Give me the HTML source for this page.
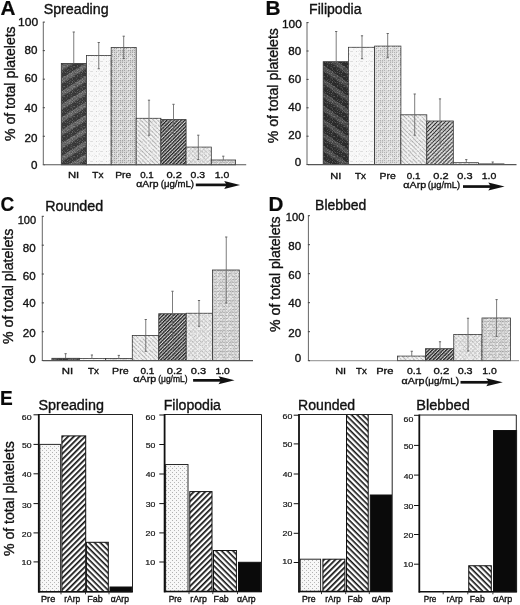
<!DOCTYPE html>
<html><head><meta charset="utf-8"><style>
html,body{margin:0;padding:0;background:#fff;width:520px;height:605px;overflow:hidden}
svg{display:block;will-change:transform;filter:blur(0.3px)}
text{font-family:"Liberation Sans", sans-serif;stroke:#111;stroke-width:0.35px;paint-order:stroke}
</style></head><body>
<svg width="520" height="605" viewBox="0 0 520 605">
<rect width="520" height="605" fill="#fff"/>
<defs>
 <pattern id="pNI" patternUnits="userSpaceOnUse" width="11" height="11" patternTransform="rotate(-32)">
  <rect width="11" height="11" fill="#3c3c3c"/><rect y="0" width="11" height="4.6" fill="#6c6c6c"/>
  <rect x="2" y="1.5" width="2" height="1" fill="#555"/><rect x="7" y="2.5" width="2" height="1" fill="#585858"/>
 </pattern>
 <pattern id="pNIb" patternUnits="userSpaceOnUse" width="11" height="11" patternTransform="rotate(35)">
  <rect width="11" height="11" fill="#2e2e2e"/><rect y="0" width="11" height="4.5" fill="#535353"/>
  <rect x="2" y="1.5" width="2" height="1" fill="#404040"/><rect x="7" y="6.5" width="2" height="1" fill="#444"/>
 </pattern>
 <pattern id="pTx" patternUnits="userSpaceOnUse" width="5" height="5">
  <rect width="5" height="5" fill="#f8f8f8"/><rect x="1" y="1" width="1" height="1" fill="#dcdcdc"/><rect x="3.5" y="3.5" width="1" height="1" fill="#e4e4e4"/>
 </pattern>
 <pattern id="pPre" patternUnits="userSpaceOnUse" width="2" height="2">
  <rect width="2" height="2" fill="#d6d6d6"/><rect width="1" height="1" fill="#a4a4a4"/>
 </pattern>
 <pattern id="pPreB" patternUnits="userSpaceOnUse" width="2" height="2">
  <rect width="2" height="2" fill="#dedede"/><rect width="1" height="1" fill="#b2b2b2"/>
 </pattern>
 <pattern id="pBs" patternUnits="userSpaceOnUse" width="3" height="3" patternTransform="rotate(45)">
  <rect width="3" height="3" fill="#efefef"/><rect width="3" height="1" fill="#b8b8b8"/>
 </pattern>
 <pattern id="pFs" patternUnits="userSpaceOnUse" width="2.5" height="2.5" patternTransform="rotate(-45)">
  <rect width="2.5" height="2.5" fill="#d2d2d2"/><rect width="2.5" height="1.35" fill="#222"/>
 </pattern>
 <pattern id="pFsB" patternUnits="userSpaceOnUse" width="2.8" height="2.8" patternTransform="rotate(-45)">
  <rect width="2.8" height="2.8" fill="#e4e4e4"/><rect width="2.8" height="1.1" fill="#333"/>
 </pattern>
 <pattern id="pX" patternUnits="userSpaceOnUse" width="3" height="3" patternTransform="rotate(45)">
  <rect width="3" height="3" fill="#ececec"/><rect width="3" height="0.8" fill="#c0c0c0"/><rect width="0.8" height="3" fill="#cacaca"/>
 </pattern>
 <pattern id="pGrid" patternUnits="userSpaceOnUse" width="3" height="3">
  <rect width="3" height="3" fill="#d8d8d8"/><rect width="3" height="1" fill="#b6b6b6"/><rect width="1" height="3" fill="#c8c8c8"/>
 </pattern>
 <pattern id="eDot" patternUnits="userSpaceOnUse" width="4" height="4">
  <rect width="4" height="4" fill="#f7f7f7"/><rect x="0" y="0" width="1" height="1" fill="#b0b0b0"/><rect x="2" y="2" width="1" height="1" fill="#b8b8b8"/>
 </pattern>
 <pattern id="eFs" patternUnits="userSpaceOnUse" width="4.0" height="4.0" patternTransform="rotate(-45)">
  <rect width="4.0" height="4.0" fill="#fff"/><rect width="4.0" height="1.7" fill="#111"/>
 </pattern>
 <pattern id="eBs" patternUnits="userSpaceOnUse" width="4.0" height="4.0" patternTransform="rotate(45)">
  <rect width="4.0" height="4.0" fill="#fff"/><rect width="4.0" height="1.6" fill="#111"/>
 </pattern>
 <pattern id="noise" patternUnits="userSpaceOnUse" width="10" height="10"><rect x="0" y="0" width="1" height="1" fill="#fff" fill-opacity="0.10"/><rect x="2" y="0" width="1" height="1" fill="#000" fill-opacity="0.16"/><rect x="3" y="0" width="1" height="1" fill="#fff" fill-opacity="0.09"/><rect x="5" y="0" width="1" height="1" fill="#000" fill-opacity="0.14"/><rect x="6" y="0" width="1" height="1" fill="#000" fill-opacity="0.09"/><rect x="7" y="0" width="1" height="1" fill="#fff" fill-opacity="0.20"/><rect x="8" y="0" width="1" height="1" fill="#000" fill-opacity="0.11"/><rect x="2" y="1" width="1" height="1" fill="#fff" fill-opacity="0.22"/><rect x="3" y="1" width="1" height="1" fill="#000" fill-opacity="0.20"/><rect x="4" y="1" width="1" height="1" fill="#fff" fill-opacity="0.10"/><rect x="5" y="1" width="1" height="1" fill="#000" fill-opacity="0.12"/><rect x="7" y="1" width="1" height="1" fill="#000" fill-opacity="0.16"/><rect x="9" y="1" width="1" height="1" fill="#fff" fill-opacity="0.16"/><rect x="0" y="2" width="1" height="1" fill="#000" fill-opacity="0.09"/><rect x="1" y="2" width="1" height="1" fill="#000" fill-opacity="0.18"/><rect x="2" y="2" width="1" height="1" fill="#fff" fill-opacity="0.12"/><rect x="5" y="2" width="1" height="1" fill="#fff" fill-opacity="0.19"/><rect x="7" y="2" width="1" height="1" fill="#fff" fill-opacity="0.16"/><rect x="1" y="3" width="1" height="1" fill="#fff" fill-opacity="0.22"/><rect x="2" y="3" width="1" height="1" fill="#000" fill-opacity="0.14"/><rect x="4" y="3" width="1" height="1" fill="#000" fill-opacity="0.15"/><rect x="5" y="3" width="1" height="1" fill="#000" fill-opacity="0.17"/><rect x="9" y="3" width="1" height="1" fill="#fff" fill-opacity="0.18"/><rect x="7" y="4" width="1" height="1" fill="#000" fill-opacity="0.18"/><rect x="1" y="5" width="1" height="1" fill="#fff" fill-opacity="0.13"/><rect x="3" y="5" width="1" height="1" fill="#000" fill-opacity="0.14"/><rect x="4" y="5" width="1" height="1" fill="#000" fill-opacity="0.10"/><rect x="5" y="5" width="1" height="1" fill="#000" fill-opacity="0.19"/><rect x="6" y="5" width="1" height="1" fill="#000" fill-opacity="0.11"/><rect x="7" y="5" width="1" height="1" fill="#fff" fill-opacity="0.20"/><rect x="8" y="5" width="1" height="1" fill="#000" fill-opacity="0.14"/><rect x="3" y="6" width="1" height="1" fill="#fff" fill-opacity="0.14"/><rect x="4" y="6" width="1" height="1" fill="#fff" fill-opacity="0.20"/><rect x="6" y="6" width="1" height="1" fill="#000" fill-opacity="0.10"/><rect x="7" y="6" width="1" height="1" fill="#fff" fill-opacity="0.11"/><rect x="0" y="7" width="1" height="1" fill="#fff" fill-opacity="0.08"/><rect x="1" y="7" width="1" height="1" fill="#fff" fill-opacity="0.13"/><rect x="8" y="7" width="1" height="1" fill="#000" fill-opacity="0.21"/><rect x="2" y="8" width="1" height="1" fill="#fff" fill-opacity="0.14"/><rect x="3" y="8" width="1" height="1" fill="#000" fill-opacity="0.17"/><rect x="4" y="8" width="1" height="1" fill="#000" fill-opacity="0.09"/><rect x="5" y="8" width="1" height="1" fill="#000" fill-opacity="0.10"/><rect x="6" y="8" width="1" height="1" fill="#fff" fill-opacity="0.09"/><rect x="7" y="8" width="1" height="1" fill="#000" fill-opacity="0.10"/><rect x="8" y="8" width="1" height="1" fill="#000" fill-opacity="0.13"/><rect x="9" y="8" width="1" height="1" fill="#000" fill-opacity="0.20"/><rect x="1" y="9" width="1" height="1" fill="#000" fill-opacity="0.12"/><rect x="2" y="9" width="1" height="1" fill="#fff" fill-opacity="0.13"/><rect x="3" y="9" width="1" height="1" fill="#000" fill-opacity="0.20"/><rect x="7" y="9" width="1" height="1" fill="#000" fill-opacity="0.09"/><rect x="8" y="9" width="1" height="1" fill="#fff" fill-opacity="0.12"/></pattern>
 <pattern id="noiseL" patternUnits="userSpaceOnUse" width="10" height="10"><rect x="6" y="0" width="1" height="1" fill="#fff" fill-opacity="0.45"/><rect x="9" y="0" width="1" height="1" fill="#000" fill-opacity="0.06"/><rect x="0" y="1" width="1" height="1" fill="#000" fill-opacity="0.09"/><rect x="2" y="1" width="1" height="1" fill="#000" fill-opacity="0.10"/><rect x="6" y="1" width="1" height="1" fill="#000" fill-opacity="0.04"/><rect x="8" y="1" width="1" height="1" fill="#000" fill-opacity="0.05"/><rect x="9" y="1" width="1" height="1" fill="#fff" fill-opacity="0.31"/><rect x="8" y="2" width="1" height="1" fill="#fff" fill-opacity="0.60"/><rect x="2" y="3" width="1" height="1" fill="#fff" fill-opacity="0.37"/><rect x="3" y="3" width="1" height="1" fill="#fff" fill-opacity="0.32"/><rect x="7" y="3" width="1" height="1" fill="#fff" fill-opacity="0.59"/><rect x="9" y="3" width="1" height="1" fill="#000" fill-opacity="0.05"/><rect x="3" y="4" width="1" height="1" fill="#fff" fill-opacity="0.32"/><rect x="6" y="4" width="1" height="1" fill="#fff" fill-opacity="0.33"/><rect x="7" y="4" width="1" height="1" fill="#fff" fill-opacity="0.59"/><rect x="9" y="4" width="1" height="1" fill="#000" fill-opacity="0.05"/><rect x="0" y="5" width="1" height="1" fill="#000" fill-opacity="0.04"/><rect x="2" y="5" width="1" height="1" fill="#000" fill-opacity="0.07"/><rect x="4" y="5" width="1" height="1" fill="#fff" fill-opacity="0.52"/><rect x="5" y="5" width="1" height="1" fill="#000" fill-opacity="0.08"/><rect x="6" y="5" width="1" height="1" fill="#000" fill-opacity="0.07"/><rect x="7" y="5" width="1" height="1" fill="#fff" fill-opacity="0.38"/><rect x="0" y="6" width="1" height="1" fill="#fff" fill-opacity="0.57"/><rect x="1" y="6" width="1" height="1" fill="#fff" fill-opacity="0.42"/><rect x="4" y="6" width="1" height="1" fill="#000" fill-opacity="0.10"/><rect x="5" y="6" width="1" height="1" fill="#fff" fill-opacity="0.38"/><rect x="7" y="6" width="1" height="1" fill="#fff" fill-opacity="0.39"/><rect x="8" y="6" width="1" height="1" fill="#000" fill-opacity="0.05"/><rect x="0" y="7" width="1" height="1" fill="#fff" fill-opacity="0.48"/><rect x="1" y="7" width="1" height="1" fill="#fff" fill-opacity="0.44"/><rect x="6" y="7" width="1" height="1" fill="#fff" fill-opacity="0.35"/><rect x="9" y="7" width="1" height="1" fill="#fff" fill-opacity="0.36"/><rect x="2" y="8" width="1" height="1" fill="#fff" fill-opacity="0.59"/><rect x="6" y="8" width="1" height="1" fill="#000" fill-opacity="0.04"/><rect x="8" y="8" width="1" height="1" fill="#fff" fill-opacity="0.51"/><rect x="9" y="8" width="1" height="1" fill="#fff" fill-opacity="0.55"/><rect x="1" y="9" width="1" height="1" fill="#fff" fill-opacity="0.35"/><rect x="3" y="9" width="1" height="1" fill="#000" fill-opacity="0.05"/><rect x="7" y="9" width="1" height="1" fill="#fff" fill-opacity="0.58"/><rect x="8" y="9" width="1" height="1" fill="#fff" fill-opacity="0.30"/><rect x="9" y="9" width="1" height="1" fill="#fff" fill-opacity="0.43"/></pattern>
</defs>

<text x="0.48" y="14.70" font-size="20" font-weight="bold" fill="#0a0a0a" textLength="14.98" lengthAdjust="spacingAndGlyphs" style="stroke-width:0.2px">A</text>
<text x="43.66" y="13.90" font-size="14" font-weight="normal" fill="#111" textLength="64.96" lengthAdjust="spacingAndGlyphs">Spreading</text>
<rect x="61.30" y="63.50" width="25.20" height="101.30" fill="url(#pNI)" stroke="#333" stroke-width="0.8" />
<rect x="61.70" y="63.90" width="24.40" height="100.50" fill="url(#noise)" stroke="none" stroke-width="1" />
<rect x="86.50" y="55.40" width="24.70" height="109.40" fill="url(#pTx)" stroke="#333" stroke-width="0.8" />
<rect x="86.90" y="55.80" width="23.90" height="108.60" fill="url(#noiseL)" stroke="none" stroke-width="1" />
<rect x="111.20" y="47.40" width="25.00" height="117.40" fill="url(#pPre)" stroke="#333" stroke-width="0.8" />
<rect x="111.60" y="47.80" width="24.20" height="116.60" fill="url(#noiseL)" stroke="none" stroke-width="1" />
<rect x="136.20" y="118.30" width="24.70" height="46.50" fill="url(#pBs)" stroke="#333" stroke-width="0.8" />
<rect x="136.60" y="118.70" width="23.90" height="45.70" fill="url(#noiseL)" stroke="none" stroke-width="1" />
<rect x="160.90" y="119.60" width="25.20" height="45.20" fill="url(#pFs)" stroke="#333" stroke-width="0.8" />
<rect x="161.30" y="120.00" width="24.40" height="44.40" fill="url(#noise)" stroke="none" stroke-width="1" />
<rect x="186.10" y="147.10" width="25.20" height="17.70" fill="url(#pX)" stroke="#333" stroke-width="0.8" />
<rect x="186.50" y="147.50" width="24.40" height="16.90" fill="url(#noiseL)" stroke="none" stroke-width="1" />
<rect x="211.30" y="160.00" width="24.30" height="4.80" fill="url(#pGrid)" stroke="#333" stroke-width="0.8" />
<rect x="211.70" y="160.40" width="23.50" height="4.00" fill="url(#noiseL)" stroke="none" stroke-width="1" />
<line x1="73.75" y1="32.00" x2="73.75" y2="63.50" stroke="#666" stroke-width="0.85" />
<line x1="72.65" y1="32.00" x2="74.85" y2="32.00" stroke="#666" stroke-width="1" />
<line x1="98.75" y1="42.50" x2="98.75" y2="68.75" stroke="#666" stroke-width="0.85" />
<line x1="97.65" y1="42.50" x2="99.85" y2="42.50" stroke="#666" stroke-width="1" />
<line x1="97.65" y1="68.75" x2="99.85" y2="68.75" stroke="#666" stroke-width="1" />
<line x1="123.70" y1="36.20" x2="123.70" y2="58.50" stroke="#666" stroke-width="0.85" />
<line x1="122.60" y1="36.20" x2="124.80" y2="36.20" stroke="#666" stroke-width="1" />
<line x1="122.60" y1="58.50" x2="124.80" y2="58.50" stroke="#666" stroke-width="1" />
<line x1="149.00" y1="100.20" x2="149.00" y2="135.20" stroke="#666" stroke-width="0.85" />
<line x1="147.90" y1="100.20" x2="150.10" y2="100.20" stroke="#666" stroke-width="1" />
<line x1="147.90" y1="135.20" x2="150.10" y2="135.20" stroke="#666" stroke-width="1" />
<line x1="173.50" y1="104.30" x2="173.50" y2="135.80" stroke="#666" stroke-width="0.85" />
<line x1="172.40" y1="104.30" x2="174.60" y2="104.30" stroke="#666" stroke-width="1" />
<line x1="172.40" y1="135.80" x2="174.60" y2="135.80" stroke="#666" stroke-width="1" />
<line x1="198.30" y1="135.20" x2="198.30" y2="159.50" stroke="#666" stroke-width="0.85" />
<line x1="197.20" y1="135.20" x2="199.40" y2="135.20" stroke="#666" stroke-width="1" />
<line x1="197.20" y1="159.50" x2="199.40" y2="159.50" stroke="#666" stroke-width="1" />
<line x1="223.30" y1="156.20" x2="223.30" y2="160.00" stroke="#666" stroke-width="0.85" />
<line x1="222.20" y1="156.20" x2="224.40" y2="156.20" stroke="#666" stroke-width="1" />
<line x1="43.30" y1="22.10" x2="43.30" y2="164.80" stroke="#666" stroke-width="1" />
<line x1="44.30" y1="164.80" x2="246.20" y2="164.80" stroke="#555" stroke-width="1.1" />
<line x1="42.80" y1="164.80" x2="44.90" y2="164.80" stroke="#444" stroke-width="1" />
<text x="30.97" y="169.05" font-size="11.6" font-weight="normal" fill="#111" textLength="6.45" lengthAdjust="spacingAndGlyphs">0</text>
<line x1="42.80" y1="136.26" x2="44.90" y2="136.26" stroke="#444" stroke-width="1" />
<text x="24.53" y="141.75" font-size="11.6" font-weight="normal" fill="#111" textLength="12.90" lengthAdjust="spacingAndGlyphs">20</text>
<line x1="42.80" y1="107.72" x2="44.90" y2="107.72" stroke="#444" stroke-width="1" />
<text x="24.53" y="111.85" font-size="11.6" font-weight="normal" fill="#111" textLength="12.90" lengthAdjust="spacingAndGlyphs">40</text>
<line x1="42.80" y1="79.18" x2="44.90" y2="79.18" stroke="#444" stroke-width="1" />
<text x="24.53" y="82.20" font-size="11.6" font-weight="normal" fill="#111" textLength="12.90" lengthAdjust="spacingAndGlyphs">60</text>
<line x1="42.80" y1="50.64" x2="44.90" y2="50.64" stroke="#444" stroke-width="1" />
<text x="24.53" y="54.05" font-size="11.6" font-weight="normal" fill="#111" textLength="12.90" lengthAdjust="spacingAndGlyphs">80</text>
<line x1="42.80" y1="22.10" x2="44.90" y2="22.10" stroke="#444" stroke-width="1" />
<text x="18.10" y="26.05" font-size="11.6" font-weight="normal" fill="#111" textLength="20.07" lengthAdjust="spacingAndGlyphs">100</text>
<text transform="translate(15.20,140.50) rotate(-90)" x="-0.49" y="0" font-size="14" fill="#111" textLength="114.60" lengthAdjust="spacingAndGlyphs">% of total platelets</text>
<text x="67.90" y="178.30" font-size="9.5" font-weight="normal" fill="#111" textLength="11.27" lengthAdjust="spacingAndGlyphs">NI</text>
<text x="92.30" y="178.30" font-size="9.5" font-weight="normal" fill="#111" textLength="11.11" lengthAdjust="spacingAndGlyphs">Tx</text>
<text x="115.18" y="178.30" font-size="9.5" font-weight="normal" fill="#111" textLength="16.00" lengthAdjust="spacingAndGlyphs">Pre</text>
<text x="140.21" y="178.30" font-size="9.5" font-weight="normal" fill="#111" textLength="13.53" lengthAdjust="spacingAndGlyphs">0.1</text>
<text x="166.46" y="178.30" font-size="9.5" font-weight="normal" fill="#111" textLength="15.40" lengthAdjust="spacingAndGlyphs">0.2</text>
<text x="190.58" y="178.30" font-size="9.5" font-weight="normal" fill="#111" textLength="14.54" lengthAdjust="spacingAndGlyphs">0.3</text>
<text x="214.81" y="178.30" font-size="9.5" font-weight="normal" fill="#111" textLength="14.55" lengthAdjust="spacingAndGlyphs">1.0</text>
<text x="136.39" y="186.70" font-size="9.4" font-weight="normal" fill="#111" textLength="22.12" lengthAdjust="spacingAndGlyphs">&#945;Arp</text>
<text x="160.73" y="186.70" font-size="9.2" font-weight="normal" fill="#111" textLength="33.20" lengthAdjust="spacingAndGlyphs">(&#956;g/mL)</text>
<rect x="195.80" y="183.55" width="31.40" height="2.7" fill="#111"/>
<path d="M224.20 180.90 L240.10 184.90 L224.20 188.90 L226.70 184.90 Z" fill="#111"/>
<text x="265.55" y="15.20" font-size="20" font-weight="bold" fill="#0a0a0a" textLength="15.04" lengthAdjust="spacingAndGlyphs" style="stroke-width:0.2px">B</text>
<text x="309.07" y="14.40" font-size="14" font-weight="normal" fill="#111" textLength="52.42" lengthAdjust="spacingAndGlyphs">Filipodia</text>
<rect x="323.20" y="61.70" width="25.30" height="102.90" fill="url(#pNIb)" stroke="#333" stroke-width="0.8" />
<rect x="323.60" y="62.10" width="24.50" height="102.10" fill="url(#noise)" stroke="none" stroke-width="1" />
<rect x="348.50" y="47.30" width="26.10" height="117.30" fill="url(#pTx)" stroke="#333" stroke-width="0.8" />
<rect x="348.90" y="47.70" width="25.30" height="116.50" fill="url(#noiseL)" stroke="none" stroke-width="1" />
<rect x="374.60" y="46.10" width="26.30" height="118.50" fill="url(#pPreB)" stroke="#333" stroke-width="0.8" />
<rect x="375.00" y="46.50" width="25.50" height="117.70" fill="url(#noiseL)" stroke="none" stroke-width="1" />
<rect x="400.90" y="114.80" width="25.90" height="49.80" fill="url(#pBs)" stroke="#333" stroke-width="0.8" />
<rect x="401.30" y="115.20" width="25.10" height="49.00" fill="url(#noiseL)" stroke="none" stroke-width="1" />
<rect x="426.80" y="121.00" width="26.50" height="43.60" fill="url(#pFsB)" stroke="#333" stroke-width="0.8" />
<rect x="427.20" y="121.40" width="25.70" height="42.80" fill="url(#noise)" stroke="none" stroke-width="1" />
<rect x="453.30" y="162.70" width="25.30" height="1.90" fill="url(#pX)" stroke="#333" stroke-width="0.8" />
<rect x="453.70" y="163.10" width="24.50" height="1.10" fill="url(#noiseL)" stroke="none" stroke-width="1" />
<rect x="478.60" y="163.90" width="25.40" height="0.70" fill="url(#pGrid)" stroke="#333" stroke-width="0.8" />
<rect x="479.00" y="164.30" width="24.60" height="-0.10" fill="url(#noiseL)" stroke="none" stroke-width="1" />
<line x1="336.20" y1="31.50" x2="336.20" y2="61.70" stroke="#666" stroke-width="0.85" />
<line x1="335.10" y1="31.50" x2="337.30" y2="31.50" stroke="#666" stroke-width="1" />
<line x1="362.00" y1="35.80" x2="362.00" y2="58.70" stroke="#666" stroke-width="0.85" />
<line x1="360.90" y1="35.80" x2="363.10" y2="35.80" stroke="#666" stroke-width="1" />
<line x1="360.90" y1="58.70" x2="363.10" y2="58.70" stroke="#666" stroke-width="1" />
<line x1="387.70" y1="33.50" x2="387.70" y2="57.70" stroke="#666" stroke-width="0.85" />
<line x1="386.60" y1="33.50" x2="388.80" y2="33.50" stroke="#666" stroke-width="1" />
<line x1="386.60" y1="57.70" x2="388.80" y2="57.70" stroke="#666" stroke-width="1" />
<line x1="414.70" y1="94.00" x2="414.70" y2="135.20" stroke="#666" stroke-width="0.85" />
<line x1="413.60" y1="94.00" x2="415.80" y2="94.00" stroke="#666" stroke-width="1" />
<line x1="413.60" y1="135.20" x2="415.80" y2="135.20" stroke="#666" stroke-width="1" />
<line x1="440.00" y1="98.90" x2="440.00" y2="143.90" stroke="#666" stroke-width="0.85" />
<line x1="438.90" y1="98.90" x2="441.10" y2="98.90" stroke="#666" stroke-width="1" />
<line x1="438.90" y1="143.90" x2="441.10" y2="143.90" stroke="#666" stroke-width="1" />
<line x1="466.30" y1="159.60" x2="466.30" y2="162.70" stroke="#666" stroke-width="0.85" />
<line x1="465.20" y1="159.60" x2="467.40" y2="159.60" stroke="#666" stroke-width="1" />
<line x1="492.70" y1="162.00" x2="492.70" y2="163.90" stroke="#666" stroke-width="0.85" />
<line x1="491.60" y1="162.00" x2="493.80" y2="162.00" stroke="#666" stroke-width="1" />
<line x1="307.00" y1="22.60" x2="307.00" y2="164.60" stroke="#666" stroke-width="1" />
<line x1="308.00" y1="164.60" x2="516.50" y2="164.60" stroke="#555" stroke-width="1.1" />
<line x1="306.50" y1="164.60" x2="308.60" y2="164.60" stroke="#444" stroke-width="1" />
<text x="294.77" y="165.85" font-size="11.6" font-weight="normal" fill="#111" textLength="6.45" lengthAdjust="spacingAndGlyphs">0</text>
<line x1="306.50" y1="136.20" x2="308.60" y2="136.20" stroke="#444" stroke-width="1" />
<text x="288.33" y="138.95" font-size="11.6" font-weight="normal" fill="#111" textLength="12.90" lengthAdjust="spacingAndGlyphs">20</text>
<line x1="306.50" y1="107.80" x2="308.60" y2="107.80" stroke="#444" stroke-width="1" />
<text x="288.33" y="111.15" font-size="11.6" font-weight="normal" fill="#111" textLength="12.90" lengthAdjust="spacingAndGlyphs">40</text>
<line x1="306.50" y1="79.40" x2="308.60" y2="79.40" stroke="#444" stroke-width="1" />
<text x="288.33" y="82.55" font-size="11.6" font-weight="normal" fill="#111" textLength="12.90" lengthAdjust="spacingAndGlyphs">60</text>
<line x1="306.50" y1="51.00" x2="308.60" y2="51.00" stroke="#444" stroke-width="1" />
<text x="288.33" y="54.80" font-size="11.6" font-weight="normal" fill="#111" textLength="12.90" lengthAdjust="spacingAndGlyphs">80</text>
<line x1="306.50" y1="22.60" x2="308.60" y2="22.60" stroke="#444" stroke-width="1" />
<text x="281.91" y="27.70" font-size="11.6" font-weight="normal" fill="#111" textLength="19.85" lengthAdjust="spacingAndGlyphs">100</text>
<text transform="translate(277.80,142.80) rotate(-90)" x="-0.49" y="0" font-size="14" fill="#111" textLength="115.21" lengthAdjust="spacingAndGlyphs">% of total platelets</text>
<text x="330.36" y="178.80" font-size="9.5" font-weight="normal" fill="#111" textLength="11.09" lengthAdjust="spacingAndGlyphs">NI</text>
<text x="355.10" y="178.80" font-size="9.5" font-weight="normal" fill="#111" textLength="10.90" lengthAdjust="spacingAndGlyphs">Tx</text>
<text x="379.47" y="178.80" font-size="9.5" font-weight="normal" fill="#111" textLength="16.22" lengthAdjust="spacingAndGlyphs">Pre</text>
<text x="406.81" y="178.80" font-size="9.5" font-weight="normal" fill="#111" textLength="13.64" lengthAdjust="spacingAndGlyphs">0.1</text>
<text x="433.36" y="178.80" font-size="9.5" font-weight="normal" fill="#111" textLength="15.29" lengthAdjust="spacingAndGlyphs">0.2</text>
<text x="457.26" y="178.80" font-size="9.5" font-weight="normal" fill="#111" textLength="15.28" lengthAdjust="spacingAndGlyphs">0.3</text>
<text x="481.71" y="178.80" font-size="9.5" font-weight="normal" fill="#111" textLength="14.66" lengthAdjust="spacingAndGlyphs">1.0</text>
<text x="403.37" y="187.60" font-size="9.4" font-weight="normal" fill="#111" textLength="22.85" lengthAdjust="spacingAndGlyphs">&#945;Arp</text>
<text x="427.84" y="187.60" font-size="9.2" font-weight="normal" fill="#111" textLength="32.16" lengthAdjust="spacingAndGlyphs">(&#956;g/mL)</text>
<rect x="463.00" y="185.20" width="28.30" height="2.7" fill="#111"/>
<path d="M488.30 182.55 L504.60 186.55 L488.30 190.55 L490.80 186.55 Z" fill="#111"/>
<text x="0.39" y="210.60" font-size="20" font-weight="bold" fill="#0a0a0a" textLength="13.73" lengthAdjust="spacingAndGlyphs" style="stroke-width:0.2px">C</text>
<text x="45.16" y="211.00" font-size="14" font-weight="normal" fill="#111" textLength="58.06" lengthAdjust="spacingAndGlyphs">Rounded</text>
<rect x="51.90" y="358.30" width="27.50" height="2.30" fill="url(#pNI)" stroke="#333" stroke-width="0.8" />
<rect x="52.30" y="358.70" width="26.70" height="1.50" fill="url(#noise)" stroke="none" stroke-width="1" />
<rect x="79.40" y="358.50" width="26.00" height="2.10" fill="url(#pTx)" stroke="#333" stroke-width="0.8" />
<rect x="79.80" y="358.90" width="25.20" height="1.30" fill="url(#noiseL)" stroke="none" stroke-width="1" />
<rect x="105.40" y="358.50" width="26.90" height="2.10" fill="url(#pPre)" stroke="#333" stroke-width="0.8" />
<rect x="105.80" y="358.90" width="26.10" height="1.30" fill="url(#noiseL)" stroke="none" stroke-width="1" />
<rect x="132.30" y="335.50" width="26.45" height="25.10" fill="url(#pBs)" stroke="#333" stroke-width="0.8" />
<rect x="132.70" y="335.90" width="25.65" height="24.30" fill="url(#noiseL)" stroke="none" stroke-width="1" />
<rect x="158.75" y="313.75" width="27.50" height="46.85" fill="url(#pFs)" stroke="#333" stroke-width="0.8" />
<rect x="159.15" y="314.15" width="26.70" height="46.05" fill="url(#noise)" stroke="none" stroke-width="1" />
<rect x="186.25" y="313.25" width="26.25" height="47.35" fill="url(#pX)" stroke="#333" stroke-width="0.8" />
<rect x="186.65" y="313.65" width="25.45" height="46.55" fill="url(#noiseL)" stroke="none" stroke-width="1" />
<rect x="212.50" y="270.00" width="26.80" height="90.60" fill="url(#pGrid)" stroke="#333" stroke-width="0.8" />
<rect x="212.90" y="270.40" width="26.00" height="89.80" fill="url(#noiseL)" stroke="none" stroke-width="1" />
<line x1="65.60" y1="353.70" x2="65.60" y2="358.30" stroke="#666" stroke-width="0.85" />
<line x1="64.50" y1="353.70" x2="66.70" y2="353.70" stroke="#666" stroke-width="1" />
<line x1="91.90" y1="355.00" x2="91.90" y2="358.50" stroke="#666" stroke-width="0.85" />
<line x1="90.80" y1="355.00" x2="93.00" y2="355.00" stroke="#666" stroke-width="1" />
<line x1="118.80" y1="355.40" x2="118.80" y2="358.50" stroke="#666" stroke-width="0.85" />
<line x1="117.70" y1="355.40" x2="119.90" y2="355.40" stroke="#666" stroke-width="1" />
<line x1="145.75" y1="319.50" x2="145.75" y2="351.25" stroke="#666" stroke-width="0.85" />
<line x1="144.65" y1="319.50" x2="146.85" y2="319.50" stroke="#666" stroke-width="1" />
<line x1="144.65" y1="351.25" x2="146.85" y2="351.25" stroke="#666" stroke-width="1" />
<line x1="172.50" y1="291.25" x2="172.50" y2="336.25" stroke="#666" stroke-width="0.85" />
<line x1="171.40" y1="291.25" x2="173.60" y2="291.25" stroke="#666" stroke-width="1" />
<line x1="171.40" y1="336.25" x2="173.60" y2="336.25" stroke="#666" stroke-width="1" />
<line x1="199.00" y1="300.50" x2="199.00" y2="326.25" stroke="#666" stroke-width="0.85" />
<line x1="197.90" y1="300.50" x2="200.10" y2="300.50" stroke="#666" stroke-width="1" />
<line x1="197.90" y1="326.25" x2="200.10" y2="326.25" stroke="#666" stroke-width="1" />
<line x1="226.25" y1="237.00" x2="226.25" y2="303.00" stroke="#666" stroke-width="0.85" />
<line x1="225.15" y1="237.00" x2="227.35" y2="237.00" stroke="#666" stroke-width="1" />
<line x1="225.15" y1="303.00" x2="227.35" y2="303.00" stroke="#666" stroke-width="1" />
<line x1="42.30" y1="216.30" x2="42.30" y2="360.60" stroke="#666" stroke-width="1" />
<line x1="43.30" y1="360.60" x2="253.00" y2="360.60" stroke="#555" stroke-width="1.1" />
<line x1="41.80" y1="360.60" x2="43.90" y2="360.60" stroke="#444" stroke-width="1" />
<text x="29.17" y="362.55" font-size="11.6" font-weight="normal" fill="#111" textLength="6.45" lengthAdjust="spacingAndGlyphs">0</text>
<line x1="41.80" y1="331.74" x2="43.90" y2="331.74" stroke="#444" stroke-width="1" />
<text x="22.73" y="336.85" font-size="11.6" font-weight="normal" fill="#111" textLength="12.90" lengthAdjust="spacingAndGlyphs">20</text>
<line x1="41.80" y1="302.88" x2="43.90" y2="302.88" stroke="#444" stroke-width="1" />
<text x="22.73" y="307.35" font-size="11.6" font-weight="normal" fill="#111" textLength="12.90" lengthAdjust="spacingAndGlyphs">40</text>
<line x1="41.80" y1="274.02" x2="43.90" y2="274.02" stroke="#444" stroke-width="1" />
<text x="22.73" y="279.55" font-size="11.6" font-weight="normal" fill="#111" textLength="12.90" lengthAdjust="spacingAndGlyphs">60</text>
<line x1="41.80" y1="245.16" x2="43.90" y2="245.16" stroke="#444" stroke-width="1" />
<text x="22.73" y="252.15" font-size="11.6" font-weight="normal" fill="#111" textLength="12.90" lengthAdjust="spacingAndGlyphs">80</text>
<line x1="41.80" y1="216.30" x2="43.90" y2="216.30" stroke="#444" stroke-width="1" />
<text x="17.67" y="224.05" font-size="11.6" font-weight="normal" fill="#111" textLength="18.46" lengthAdjust="spacingAndGlyphs">100</text>
<text transform="translate(12.90,343.40) rotate(-90)" x="-0.49" y="0" font-size="14" fill="#111" textLength="115.11" lengthAdjust="spacingAndGlyphs">% of total platelets</text>
<text x="61.79" y="373.50" font-size="9.5" font-weight="normal" fill="#111" textLength="11.39" lengthAdjust="spacingAndGlyphs">NI</text>
<text x="88.00" y="373.50" font-size="9.5" font-weight="normal" fill="#111" textLength="10.85" lengthAdjust="spacingAndGlyphs">Tx</text>
<text x="112.05" y="373.50" font-size="9.5" font-weight="normal" fill="#111" textLength="16.54" lengthAdjust="spacingAndGlyphs">Pre</text>
<text x="140.50" y="373.50" font-size="9.5" font-weight="normal" fill="#111" textLength="13.85" lengthAdjust="spacingAndGlyphs">0.1</text>
<text x="166.86" y="373.50" font-size="9.5" font-weight="normal" fill="#111" textLength="15.45" lengthAdjust="spacingAndGlyphs">0.2</text>
<text x="190.86" y="373.50" font-size="9.5" font-weight="normal" fill="#111" textLength="15.39" lengthAdjust="spacingAndGlyphs">0.3</text>
<text x="215.43" y="373.50" font-size="9.5" font-weight="normal" fill="#111" textLength="14.34" lengthAdjust="spacingAndGlyphs">1.0</text>
<text x="133.37" y="381.60" font-size="9.4" font-weight="normal" fill="#111" textLength="22.85" lengthAdjust="spacingAndGlyphs">&#945;Arp</text>
<text x="158.19" y="381.60" font-size="9.2" font-weight="normal" fill="#111" textLength="29.36" lengthAdjust="spacingAndGlyphs">(&#956;g/mL)</text>
<rect x="193.10" y="379.00" width="28.40" height="2.7" fill="#111"/>
<path d="M218.50 376.35 L234.60 380.35 L218.50 384.35 L221.00 380.35 Z" fill="#111"/>
<text x="268.46" y="210.60" font-size="20" font-weight="bold" fill="#0a0a0a" textLength="14.91" lengthAdjust="spacingAndGlyphs" style="stroke-width:0.2px">D</text>
<text x="315.08" y="210.20" font-size="14" font-weight="normal" fill="#111" textLength="51.22" lengthAdjust="spacingAndGlyphs">Blebbed</text>
<rect x="397.50" y="356.10" width="28.00" height="4.60" fill="url(#pBs)" stroke="#333" stroke-width="0.8" />
<rect x="397.90" y="356.50" width="27.20" height="3.80" fill="url(#noiseL)" stroke="none" stroke-width="1" />
<rect x="425.50" y="348.70" width="28.25" height="12.00" fill="url(#pFs)" stroke="#333" stroke-width="0.8" />
<rect x="425.90" y="349.10" width="27.45" height="11.20" fill="url(#noise)" stroke="none" stroke-width="1" />
<rect x="453.75" y="334.40" width="28.25" height="26.30" fill="url(#pX)" stroke="#333" stroke-width="0.8" />
<rect x="454.15" y="334.80" width="27.45" height="25.50" fill="url(#noiseL)" stroke="none" stroke-width="1" />
<rect x="482.00" y="318.00" width="28.50" height="42.70" fill="url(#pGrid)" stroke="#333" stroke-width="0.8" />
<rect x="482.40" y="318.40" width="27.70" height="41.90" fill="url(#noiseL)" stroke="none" stroke-width="1" />
<line x1="411.75" y1="351.25" x2="411.75" y2="356.10" stroke="#666" stroke-width="0.85" />
<line x1="410.65" y1="351.25" x2="412.85" y2="351.25" stroke="#666" stroke-width="1" />
<line x1="440.00" y1="341.75" x2="440.00" y2="354.00" stroke="#666" stroke-width="0.85" />
<line x1="438.90" y1="341.75" x2="441.10" y2="341.75" stroke="#666" stroke-width="1" />
<line x1="438.90" y1="354.00" x2="441.10" y2="354.00" stroke="#666" stroke-width="1" />
<line x1="468.00" y1="318.25" x2="468.00" y2="351.00" stroke="#666" stroke-width="0.85" />
<line x1="466.90" y1="318.25" x2="469.10" y2="318.25" stroke="#666" stroke-width="1" />
<line x1="466.90" y1="351.00" x2="469.10" y2="351.00" stroke="#666" stroke-width="1" />
<line x1="496.60" y1="299.60" x2="496.60" y2="336.40" stroke="#666" stroke-width="0.85" />
<line x1="495.50" y1="299.60" x2="497.70" y2="299.60" stroke="#666" stroke-width="1" />
<line x1="495.50" y1="336.40" x2="497.70" y2="336.40" stroke="#666" stroke-width="1" />
<line x1="308.40" y1="215.70" x2="308.40" y2="360.70" stroke="#666" stroke-width="1" />
<line x1="309.40" y1="360.70" x2="519.00" y2="360.70" stroke="#666" stroke-width="1.3" stroke-dasharray="1.2 0.8"/>
<line x1="307.90" y1="360.70" x2="310.00" y2="360.70" stroke="#444" stroke-width="1" />
<text x="294.77" y="361.85" font-size="11.6" font-weight="normal" fill="#111" textLength="6.45" lengthAdjust="spacingAndGlyphs">0</text>
<line x1="307.90" y1="331.70" x2="310.00" y2="331.70" stroke="#444" stroke-width="1" />
<text x="288.33" y="336.75" font-size="11.6" font-weight="normal" fill="#111" textLength="12.90" lengthAdjust="spacingAndGlyphs">20</text>
<line x1="307.90" y1="302.70" x2="310.00" y2="302.70" stroke="#444" stroke-width="1" />
<text x="288.33" y="306.90" font-size="11.6" font-weight="normal" fill="#111" textLength="12.90" lengthAdjust="spacingAndGlyphs">40</text>
<line x1="307.90" y1="273.70" x2="310.00" y2="273.70" stroke="#444" stroke-width="1" />
<text x="288.33" y="278.50" font-size="11.6" font-weight="normal" fill="#111" textLength="12.90" lengthAdjust="spacingAndGlyphs">60</text>
<line x1="307.90" y1="244.70" x2="310.00" y2="244.70" stroke="#444" stroke-width="1" />
<text x="288.33" y="249.95" font-size="11.6" font-weight="normal" fill="#111" textLength="12.90" lengthAdjust="spacingAndGlyphs">80</text>
<line x1="307.90" y1="215.70" x2="310.00" y2="215.70" stroke="#444" stroke-width="1" />
<text x="285.77" y="221.20" font-size="11.6" font-weight="normal" fill="#111" textLength="18.56" lengthAdjust="spacingAndGlyphs">100</text>
<text transform="translate(279.70,331.40) rotate(-90)" x="-0.49" y="0" font-size="14" fill="#111" textLength="115.51" lengthAdjust="spacingAndGlyphs">% of total platelets</text>
<text x="335.23" y="374.00" font-size="9.5" font-weight="normal" fill="#111" textLength="10.91" lengthAdjust="spacingAndGlyphs">NI</text>
<text x="356.01" y="374.00" font-size="9.5" font-weight="normal" fill="#111" textLength="10.70" lengthAdjust="spacingAndGlyphs">Tx</text>
<text x="376.21" y="374.00" font-size="9.5" font-weight="normal" fill="#111" textLength="17.30" lengthAdjust="spacingAndGlyphs">Pre</text>
<text x="407.08" y="374.00" font-size="9.5" font-weight="normal" fill="#111" textLength="14.49" lengthAdjust="spacingAndGlyphs">0.1</text>
<text x="433.54" y="374.00" font-size="9.5" font-weight="normal" fill="#111" textLength="15.83" lengthAdjust="spacingAndGlyphs">0.2</text>
<text x="457.67" y="374.00" font-size="9.5" font-weight="normal" fill="#111" textLength="14.96" lengthAdjust="spacingAndGlyphs">0.3</text>
<text x="482.21" y="374.00" font-size="9.5" font-weight="normal" fill="#111" textLength="14.55" lengthAdjust="spacingAndGlyphs">1.0</text>
<text x="401.57" y="383.70" font-size="9.4" font-weight="normal" fill="#111" textLength="22.85" lengthAdjust="spacingAndGlyphs">&#945;Arp</text>
<text x="425.11" y="383.70" font-size="9.2" font-weight="normal" fill="#111" textLength="33.82" lengthAdjust="spacingAndGlyphs">(&#956;g/mL)</text>
<rect x="460.50" y="380.95" width="28.80" height="2.7" fill="#111"/>
<path d="M486.30 378.30 L502.80 382.30 L486.30 386.30 L488.80 382.30 Z" fill="#111"/>
<rect x="39.80" y="444.40" width="20.80" height="147.40" fill="url(#eDot)" stroke="#2a2a2a" stroke-width="1" />
<rect x="61.90" y="435.90" width="23.80" height="155.90" fill="url(#eFs)" stroke="#111" stroke-width="1" />
<rect x="86.40" y="542.30" width="21.90" height="49.50" fill="url(#eBs)" stroke="#111" stroke-width="1" />
<rect x="110.00" y="587.00" width="21.60" height="4.80" fill="#0a0a0a" stroke="#111" stroke-width="1" />
<path d="M38.80 414.50 H132.50 V591.80" fill="none" stroke="#222" stroke-width="1"/>
<line x1="38.80" y1="414.00" x2="38.80" y2="592.60" stroke="#111" stroke-width="1.8" />
<line x1="38.30" y1="591.80" x2="133.00" y2="591.80" stroke="#111" stroke-width="1.5" />
<line x1="33.50" y1="414.80" x2="38.80" y2="414.80" stroke="#111" stroke-width="1" />
<text x="21.86" y="420.40" font-size="7.2" font-weight="normal" fill="#111" textLength="9.77" lengthAdjust="spacingAndGlyphs" style="stroke-width:0.18px">60</text>
<line x1="33.50" y1="444.40" x2="38.80" y2="444.40" stroke="#111" stroke-width="1" />
<text x="21.95" y="448.00" font-size="7.2" font-weight="normal" fill="#111" textLength="9.67" lengthAdjust="spacingAndGlyphs" style="stroke-width:0.18px">50</text>
<line x1="33.50" y1="473.80" x2="38.80" y2="473.80" stroke="#111" stroke-width="1" />
<text x="22.13" y="477.20" font-size="7.2" font-weight="normal" fill="#111" textLength="9.49" lengthAdjust="spacingAndGlyphs" style="stroke-width:0.18px">40</text>
<line x1="33.50" y1="503.60" x2="38.80" y2="503.60" stroke="#111" stroke-width="1" />
<text x="21.95" y="507.60" font-size="7.2" font-weight="normal" fill="#111" textLength="9.67" lengthAdjust="spacingAndGlyphs" style="stroke-width:0.18px">30</text>
<line x1="33.50" y1="532.90" x2="38.80" y2="532.90" stroke="#111" stroke-width="1" />
<text x="21.86" y="536.90" font-size="7.2" font-weight="normal" fill="#111" textLength="9.77" lengthAdjust="spacingAndGlyphs" style="stroke-width:0.18px">20</text>
<line x1="33.50" y1="561.90" x2="38.80" y2="561.90" stroke="#111" stroke-width="1" />
<text x="21.62" y="565.00" font-size="7.2" font-weight="normal" fill="#111" textLength="10.01" lengthAdjust="spacingAndGlyphs" style="stroke-width:0.18px">10</text>
<text x="41.07" y="601.90" font-size="8.5" font-weight="normal" fill="#111" textLength="14.15" lengthAdjust="spacingAndGlyphs">Pre</text>
<text x="64.25" y="601.90" font-size="8.5" font-weight="normal" fill="#111" textLength="15.88" lengthAdjust="spacingAndGlyphs">rArp</text>
<text x="87.18" y="601.90" font-size="8.5" font-weight="normal" fill="#111" textLength="15.51" lengthAdjust="spacingAndGlyphs">Fab</text>
<text x="110.66" y="601.90" font-size="8.5" font-weight="normal" fill="#111" textLength="18.38" lengthAdjust="spacingAndGlyphs">&#945;Arp</text>
<line x1="61.00" y1="591.80" x2="61.00" y2="594.30" stroke="#222" stroke-width="0.9" />
<line x1="85.50" y1="591.80" x2="85.50" y2="594.30" stroke="#222" stroke-width="0.9" />
<line x1="109.00" y1="591.80" x2="109.00" y2="594.30" stroke="#222" stroke-width="0.9" />
<text x="38.55" y="409.90" font-size="14" font-weight="normal" fill="#111" textLength="65.47" lengthAdjust="spacingAndGlyphs">Spreading</text>
<rect x="165.60" y="464.50" width="22.40" height="127.10" fill="url(#eDot)" stroke="#2a2a2a" stroke-width="1" />
<rect x="189.80" y="491.60" width="22.20" height="100.00" fill="url(#eFs)" stroke="#111" stroke-width="1" />
<rect x="213.50" y="550.50" width="22.90" height="41.10" fill="url(#eBs)" stroke="#111" stroke-width="1" />
<rect x="238.50" y="562.30" width="22.30" height="29.30" fill="#0a0a0a" stroke="#111" stroke-width="1" />
<path d="M164.60 414.50 H261.50 V591.60" fill="none" stroke="#222" stroke-width="1"/>
<line x1="164.60" y1="414.00" x2="164.60" y2="592.40" stroke="#111" stroke-width="1.8" />
<line x1="164.10" y1="591.60" x2="262.00" y2="591.60" stroke="#111" stroke-width="1.5" />
<line x1="159.30" y1="415.00" x2="164.60" y2="415.00" stroke="#111" stroke-width="1" />
<text x="145.56" y="419.60" font-size="7.2" font-weight="normal" fill="#111" textLength="9.77" lengthAdjust="spacingAndGlyphs" style="stroke-width:0.18px">60</text>
<line x1="159.30" y1="444.50" x2="164.60" y2="444.50" stroke="#111" stroke-width="1" />
<text x="145.65" y="447.70" font-size="7.2" font-weight="normal" fill="#111" textLength="9.67" lengthAdjust="spacingAndGlyphs" style="stroke-width:0.18px">50</text>
<line x1="159.30" y1="474.00" x2="164.60" y2="474.00" stroke="#111" stroke-width="1" />
<text x="145.83" y="477.20" font-size="7.2" font-weight="normal" fill="#111" textLength="9.49" lengthAdjust="spacingAndGlyphs" style="stroke-width:0.18px">40</text>
<line x1="159.30" y1="503.60" x2="164.60" y2="503.60" stroke="#111" stroke-width="1" />
<text x="145.65" y="506.80" font-size="7.2" font-weight="normal" fill="#111" textLength="9.67" lengthAdjust="spacingAndGlyphs" style="stroke-width:0.18px">30</text>
<line x1="159.30" y1="532.90" x2="164.60" y2="532.90" stroke="#111" stroke-width="1" />
<text x="145.56" y="536.10" font-size="7.2" font-weight="normal" fill="#111" textLength="9.77" lengthAdjust="spacingAndGlyphs" style="stroke-width:0.18px">20</text>
<line x1="159.30" y1="562.00" x2="164.60" y2="562.00" stroke="#111" stroke-width="1" />
<text x="145.32" y="565.20" font-size="7.2" font-weight="normal" fill="#111" textLength="10.01" lengthAdjust="spacingAndGlyphs" style="stroke-width:0.18px">10</text>
<text x="168.63" y="601.90" font-size="8.5" font-weight="normal" fill="#111" textLength="12.95" lengthAdjust="spacingAndGlyphs">Pre</text>
<text x="190.22" y="601.90" font-size="8.5" font-weight="normal" fill="#111" textLength="16.72" lengthAdjust="spacingAndGlyphs">rArp</text>
<text x="213.60" y="601.90" font-size="8.5" font-weight="normal" fill="#111" textLength="15.08" lengthAdjust="spacingAndGlyphs">Fab</text>
<text x="237.05" y="601.90" font-size="8.5" font-weight="normal" fill="#111" textLength="18.59" lengthAdjust="spacingAndGlyphs">&#945;Arp</text>
<line x1="189.00" y1="591.60" x2="189.00" y2="594.10" stroke="#222" stroke-width="0.9" />
<line x1="212.80" y1="591.60" x2="212.80" y2="594.10" stroke="#222" stroke-width="0.9" />
<line x1="237.50" y1="591.60" x2="237.50" y2="594.10" stroke="#222" stroke-width="0.9" />
<text x="163.67" y="409.90" font-size="14" font-weight="normal" fill="#111" textLength="57.28" lengthAdjust="spacingAndGlyphs">Filopodia</text>
<rect x="300.20" y="559.20" width="20.40" height="32.40" fill="url(#eDot)" stroke="#2a2a2a" stroke-width="1" />
<rect x="322.90" y="559.20" width="22.00" height="32.40" fill="url(#eFs)" stroke="#111" stroke-width="1" />
<rect x="346.50" y="414.50" width="21.70" height="177.10" fill="url(#eBs)" stroke="#111" stroke-width="1" />
<rect x="370.30" y="495.00" width="21.20" height="96.60" fill="#0a0a0a" stroke="#111" stroke-width="1" />
<path d="M299.00 414.50 H392.20 V591.60" fill="none" stroke="#222" stroke-width="1"/>
<line x1="299.00" y1="414.00" x2="299.00" y2="592.40" stroke="#111" stroke-width="1.8" />
<line x1="298.50" y1="591.60" x2="392.70" y2="591.60" stroke="#111" stroke-width="1.5" />
<line x1="293.70" y1="415.20" x2="299.00" y2="415.20" stroke="#111" stroke-width="1" />
<text x="282.56" y="419.30" font-size="7.2" font-weight="normal" fill="#111" textLength="9.77" lengthAdjust="spacingAndGlyphs" style="stroke-width:0.18px">60</text>
<line x1="293.70" y1="443.90" x2="299.00" y2="443.90" stroke="#111" stroke-width="1" />
<text x="282.65" y="446.80" font-size="7.2" font-weight="normal" fill="#111" textLength="9.67" lengthAdjust="spacingAndGlyphs" style="stroke-width:0.18px">50</text>
<line x1="293.70" y1="474.00" x2="299.00" y2="474.00" stroke="#111" stroke-width="1" />
<text x="282.83" y="476.90" font-size="7.2" font-weight="normal" fill="#111" textLength="9.49" lengthAdjust="spacingAndGlyphs" style="stroke-width:0.18px">40</text>
<line x1="293.70" y1="503.70" x2="299.00" y2="503.70" stroke="#111" stroke-width="1" />
<text x="282.65" y="506.60" font-size="7.2" font-weight="normal" fill="#111" textLength="9.67" lengthAdjust="spacingAndGlyphs" style="stroke-width:0.18px">30</text>
<line x1="293.70" y1="533.30" x2="299.00" y2="533.30" stroke="#111" stroke-width="1" />
<text x="282.56" y="536.20" font-size="7.2" font-weight="normal" fill="#111" textLength="9.77" lengthAdjust="spacingAndGlyphs" style="stroke-width:0.18px">20</text>
<line x1="293.70" y1="562.50" x2="299.00" y2="562.50" stroke="#111" stroke-width="1" />
<text x="282.32" y="564.30" font-size="7.2" font-weight="normal" fill="#111" textLength="10.01" lengthAdjust="spacingAndGlyphs" style="stroke-width:0.18px">10</text>
<text x="302.00" y="601.90" font-size="8.5" font-weight="normal" fill="#111" textLength="13.60" lengthAdjust="spacingAndGlyphs">Pre</text>
<text x="325.26" y="601.90" font-size="8.5" font-weight="normal" fill="#111" textLength="15.66" lengthAdjust="spacingAndGlyphs">rArp</text>
<text x="347.60" y="601.90" font-size="8.5" font-weight="normal" fill="#111" textLength="15.08" lengthAdjust="spacingAndGlyphs">Fab</text>
<text x="371.65" y="601.90" font-size="8.5" font-weight="normal" fill="#111" textLength="18.90" lengthAdjust="spacingAndGlyphs">&#945;Arp</text>
<line x1="321.50" y1="591.60" x2="321.50" y2="594.10" stroke="#222" stroke-width="0.9" />
<line x1="345.70" y1="591.60" x2="345.70" y2="594.10" stroke="#222" stroke-width="0.9" />
<line x1="369.30" y1="591.60" x2="369.30" y2="594.10" stroke="#222" stroke-width="0.9" />
<text x="298.07" y="410.10" font-size="14" font-weight="normal" fill="#111" textLength="57.13" lengthAdjust="spacingAndGlyphs">Rounded</text>
<rect x="468.75" y="565.75" width="22.55" height="26.05" fill="url(#eBs)" stroke="#111" stroke-width="1" />
<rect x="493.50" y="430.50" width="23.10" height="161.30" fill="#0a0a0a" stroke="#111" stroke-width="1" />
<path d="M419.30 415.00 H516.30 V591.80" fill="none" stroke="#222" stroke-width="1"/>
<line x1="419.30" y1="414.50" x2="419.30" y2="592.60" stroke="#111" stroke-width="1.8" />
<line x1="418.80" y1="591.80" x2="516.80" y2="591.80" stroke="#111" stroke-width="1.5" />
<line x1="414.00" y1="415.30" x2="419.30" y2="415.30" stroke="#111" stroke-width="1" />
<text x="403.56" y="421.60" font-size="7.2" font-weight="normal" fill="#111" textLength="9.77" lengthAdjust="spacingAndGlyphs" style="stroke-width:0.18px">60</text>
<line x1="414.00" y1="445.40" x2="419.30" y2="445.40" stroke="#111" stroke-width="1" />
<text x="403.65" y="449.00" font-size="7.2" font-weight="normal" fill="#111" textLength="9.67" lengthAdjust="spacingAndGlyphs" style="stroke-width:0.18px">50</text>
<line x1="414.00" y1="475.10" x2="419.30" y2="475.10" stroke="#111" stroke-width="1" />
<text x="403.83" y="478.50" font-size="7.2" font-weight="normal" fill="#111" textLength="9.49" lengthAdjust="spacingAndGlyphs" style="stroke-width:0.18px">40</text>
<line x1="414.00" y1="505.50" x2="419.30" y2="505.50" stroke="#111" stroke-width="1" />
<text x="403.65" y="508.60" font-size="7.2" font-weight="normal" fill="#111" textLength="9.67" lengthAdjust="spacingAndGlyphs" style="stroke-width:0.18px">30</text>
<line x1="414.00" y1="534.50" x2="419.30" y2="534.50" stroke="#111" stroke-width="1" />
<text x="403.56" y="537.60" font-size="7.2" font-weight="normal" fill="#111" textLength="9.77" lengthAdjust="spacingAndGlyphs" style="stroke-width:0.18px">20</text>
<line x1="414.00" y1="564.20" x2="419.30" y2="564.20" stroke="#111" stroke-width="1" />
<text x="403.32" y="567.30" font-size="7.2" font-weight="normal" fill="#111" textLength="10.01" lengthAdjust="spacingAndGlyphs" style="stroke-width:0.18px">10</text>
<text x="423.75" y="601.90" font-size="8.5" font-weight="normal" fill="#111" textLength="12.62" lengthAdjust="spacingAndGlyphs">Pre</text>
<text x="446.44" y="601.90" font-size="8.5" font-weight="normal" fill="#111" textLength="16.30" lengthAdjust="spacingAndGlyphs">rArp</text>
<text x="469.70" y="601.90" font-size="8.5" font-weight="normal" fill="#111" textLength="15.08" lengthAdjust="spacingAndGlyphs">Fab</text>
<text x="493.24" y="601.90" font-size="8.5" font-weight="normal" fill="#111" textLength="19.11" lengthAdjust="spacingAndGlyphs">&#945;Arp</text>
<line x1="443.20" y1="591.80" x2="443.20" y2="594.30" stroke="#222" stroke-width="0.9" />
<line x1="467.80" y1="591.80" x2="467.80" y2="594.30" stroke="#222" stroke-width="0.9" />
<line x1="492.90" y1="591.80" x2="492.90" y2="594.30" stroke="#222" stroke-width="0.9" />
<text x="416.34" y="410.10" font-size="14" font-weight="normal" fill="#111" textLength="53.41" lengthAdjust="spacingAndGlyphs">Blebbed</text>
<text x="0.06" y="405.00" font-size="20" font-weight="bold" fill="#0a0a0a" textLength="12.75" lengthAdjust="spacingAndGlyphs" style="stroke-width:0.2px">E</text>
<text transform="translate(14.10,555.50) rotate(-90)" x="-0.49" y="0" font-size="14" fill="#111" textLength="114.70" lengthAdjust="spacingAndGlyphs">% of total platelets</text>
</svg>
</body></html>
